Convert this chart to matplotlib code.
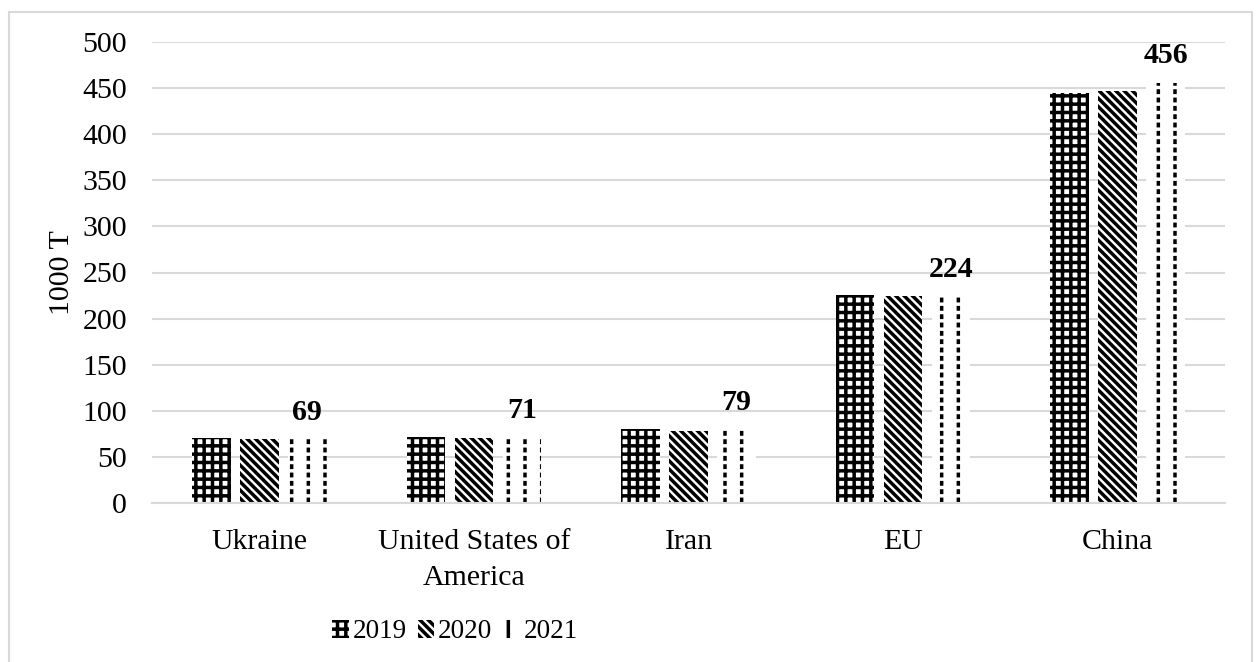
import matplotlib.pyplot as plt
import numpy as np
from matplotlib.patches import Rectangle

plt.rcParams['font.family'] = ['Liberation Serif', 'DejaVu Serif']
plt.rcParams['hatch.linewidth'] = 2.5

countries = ["Ukraine", "United States of\nAmerica", "Iran", "EU", "China"]
years = ["2019", "2020", "2021"]
v2019 = [70, 72, 80, 226, 445]
v2020 = [69, 70, 78, 225, 447]
v2021 = [69, 71, 79, 224, 456]
labels_2021 = ["69", "71", "79", "224", "456"]

fs = 21.5

fig = plt.figure(figsize=(12.56, 6.62), dpi=100)
ax = fig.add_axes([152/1256, 1 - 503/662, (1225-152)/1256, (503-42)/662])

x = np.arange(len(countries))
w = 0.18
step = 0.224

b1 = ax.bar(x - step, v2019, w, color='white', edgecolor='black', hatch='++', linewidth=0, label=years[0])
b2 = ax.bar(x, v2020, w, color='white', edgecolor='black', hatch='\\\\\\\\', linewidth=0, label=years[1])
b3 = ax.bar(x + step, v2021, w, color='white', edgecolor='black', hatch='|', linewidth=0, label=years[2])
# break the vertical lines into dashes
ax.bar(x + step, v2021, w, color='none', edgecolor='white', hatch='--', linewidth=0)

for xi, v, t in zip(x + step, v2021, labels_2021):
    ax.text(xi, v + 15, t, ha='center', va='bottom', fontsize=fs, fontweight='bold')

ax.set_ylim(0, 500)
ax.set_xlim(-0.5, 4.5)
ax.set_yticks(range(0, 501, 50))
ax.yaxis.grid(True, color='#d9d9d9', linewidth=1.5)
ax.set_axisbelow(True)
for s in ['top', 'right', 'left']:
    ax.spines[s].set_visible(False)
ax.spines['bottom'].set_color('#d9d9d9')
ax.spines['bottom'].set_linewidth(1.5)
ax.tick_params(axis='both', length=0, labelsize=fs)
ax.tick_params(axis='y', pad=18)
ax.tick_params(axis='x', pad=19)
ax.set_xticks(x)
ax.set_xticklabels(countries, linespacing=1.5)
ax.set_ylabel("1000 T", fontsize=fs, labelpad=5)

leg = fig.legend(handles=[b1, b2, b3], loc='center', bbox_to_anchor=(455/1256, 1 - 632/662),
                 ncol=3, frameon=False, fontsize=19.5, handlelength=0.6, handleheight=0.6,
                 handletextpad=0.15, columnspacing=0.4)

fig.patches.append(Rectangle((9/1256, -0.1), (1252-9)/1256, 1.1 - 12/662, transform=fig.transFigure,
                             fill=False, edgecolor='#d9d9d9', linewidth=1.5))

fig.savefig("out.png", dpi=100, facecolor='white')
